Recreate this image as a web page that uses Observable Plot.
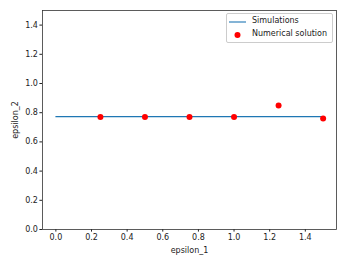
<!DOCTYPE html>
<html>
<head>
<meta charset="utf-8">
<script src="https://cdn.jsdelivr.net/npm/d3@7"></script>
<script src="https://cdn.jsdelivr.net/npm/@observablehq/plot@0.6"></script>
<style>
  body { margin: 0; background: #fff; }
  #wrap { position: relative; width: 345px; height: 268px; font-family: "DejaVu Sans", sans-serif; }
  #legend { position: absolute; left: 226px; top: 13px; width: 107px; height: 30px; border: 0.6px solid #ccc; border-radius: 2px; background: rgba(255,255,255,0.8); font-size: 8px; color: #222; box-sizing: border-box; }
  .row { position: absolute; left: 0; display: flex; align-items: center; }
  .row span { position: absolute; left: 25px; white-space: nowrap; }
</style>
</head>
<body>
<div id="wrap">
  <div id="chart"></div>
  <div id="legend">
    <div class="row" style="top:7.5px"><svg width="22" height="4" style="position:absolute;left:2px;top:-2px"><line x1="0" x2="17" y1="2" y2="2" stroke="#1f77b4" stroke-width="1.1"/></svg><span style="top:-5.5px">Simulations</span></div>
    <div class="row" style="top:20.5px"><svg width="22" height="8" style="position:absolute;left:2px;top:-4px"><circle cx="8.5" cy="4" r="3" fill="red"/></svg><span style="top:-5.5px">Numerical solution</span></div>
  </div>
</div>
<script>
const simX = [0, 0.25, 0.5, 0.75, 1.0, 1.25, 1.5];
const simY = [0.773, 0.773, 0.773, 0.773, 0.773, 0.773, 0.773];
const numX = [0.25, 0.5, 0.75, 1.0, 1.25, 1.5];
const numY = [0.77, 0.77, 0.77, 0.77, 0.85, 0.76];
const xTicks = [0, 0.2, 0.4, 0.6, 0.8, 1.0, 1.2, 1.4];
const yTicks = [0, 0.2, 0.4, 0.6, 0.8, 1.0, 1.2, 1.4];

const sim = simX.map((x, i) => ({x, y: simY[i]}));
const num = numX.map((x, i) => ({x, y: numY[i]}));

const chart = Plot.plot({
  width: 345,
  height: 268,
  marginLeft: 42,
  marginRight: 9,
  marginTop: 10,
  marginBottom: 39,
  style: {fontFamily: "DejaVu Sans, sans-serif", fontSize: "8px", color: "#222", background: "#fff"},
  x: {domain: [-0.075, 1.575]},
  y: {domain: [0, 1.5]},
  marks: [
    Plot.axisX({ticks: xTicks, tickFormat: d3.format(".1f"), tickSize: 2.6, tickPadding: 2, label: "epsilon_1", labelAnchor: "center", labelArrow: "none", labelOffset: 23}),
    Plot.axisY({ticks: yTicks, tickFormat: d3.format(".1f"), tickSize: 2.6, tickPadding: 2, label: "epsilon_2", labelAnchor: "center", labelArrow: "none", labelOffset: 30}),
    Plot.line(sim, {x: "x", y: "y", stroke: "#1f77b4", strokeWidth: 1.1}),
    Plot.dot(num, {x: "x", y: "y", r: 3, fill: "red"}),
    Plot.frame({stroke: "#333", strokeWidth: 0.8})
  ]
});
document.getElementById("chart").appendChild(chart);
</script>
</body>
</html>
